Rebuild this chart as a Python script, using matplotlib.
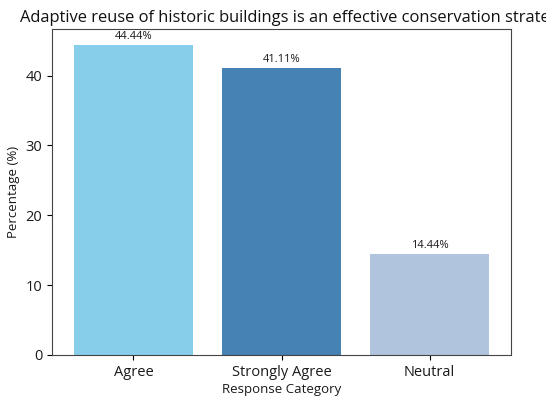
import matplotlib
matplotlib.use("Agg")
import matplotlib.pyplot as plt

categories = ["Agree", "Strongly Agree", "Neutral"]
percentages = [44.44, 41.11, 14.44]
bar_colors = ["#87CEEB", "#4682B4", "#B0C4DE"]
title = "Adaptive reuse of historic buildings is an effective conservation strategy"

plt.rcParams["font.family"] = ["Open Sans", "DejaVu Sans"]

fig = plt.figure(figsize=(5.46, 3.96), dpi=100)
ax = fig.add_axes([52 / 546, 1 - 355 / 396, (511 - 52) / 546, (355 - 29) / 396])

x = range(len(categories))
bars = ax.bar(x, percentages, width=0.8, color=bar_colors)
for b, v in zip(bars, percentages):
    ax.text(b.get_x() + b.get_width() / 2, v + 0.4, f"{v:.2f}%",
            ha="center", va="bottom", fontsize=8, color="#1a1a1a")

ax.set_xticks(list(x))
ax.set_xticklabels(categories, fontsize=10.5, color="#1a1a1a")
ax.set_xlim(-0.55, 2.55)
ax.set_ylim(0, max(percentages) * 1.05)
ax.set_yticks([0, 10, 20, 30, 40])
ax.tick_params(axis="y", labelsize=10.5, labelcolor="#1a1a1a")
ax.set_xlabel("Response Category", fontsize=9.5, labelpad=2, color="#1a1a1a")
ax.set_ylabel("Percentage (%)", fontsize=9.5, color="#1a1a1a")
for s in ax.spines.values():
    s.set_color("#444444")

fig.text(20 / 546, 1 - 18 / 396, title, ha="left", va="center", fontsize=11.9,
         color="#111111")

fig.savefig("out.png", dpi=100)
